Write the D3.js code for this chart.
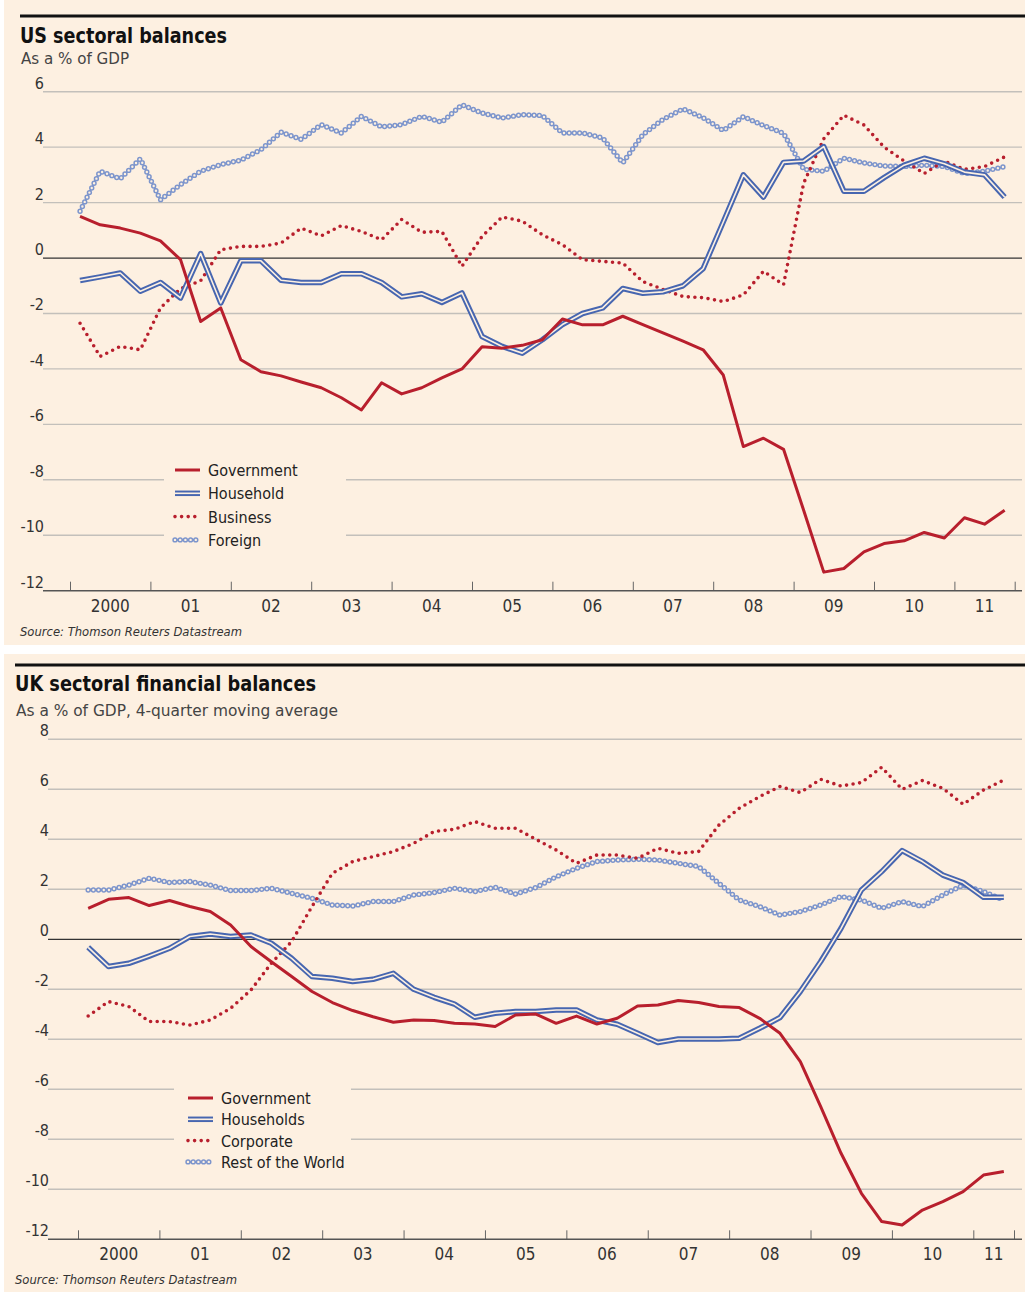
<!DOCTYPE html>
<html>
<head>
<meta charset="utf-8">
<script src="https://cdn.jsdelivr.net/npm/d3@7"></script>
<style>
  body { margin: 0; background: #fff; }
  svg { display: block; }
  text { font-family: "Liberation Sans Narrow", "DejaVu Sans Condensed", "Roboto Condensed", sans-serif; }
</style>
</head>
<body>
<div id="app"></div>
<script>
// ---- data, quarterly from 2000 Q1 ----
const yearLabels = ["2000", "01", "02", "03", "04", "05", "06", "07", "08", "09", "10", "11"];

// US, 2000Q1 - 2011Q3
const usGovernment = [1.5, 1.2, 1.08, 0.9, 0.62, -0.06, -2.29, -1.8, -3.67, -4.1, -4.25, -4.47, -4.68, -5.04, -5.48, -4.5,
  -4.9, -4.68, -4.32, -4.0, -3.2, -3.25, -3.15, -2.95, -2.2, -2.41, -2.41, -2.1, -2.4, -2.7, -3.0, -3.31,
  -4.22, -6.8, -6.5, -6.9, -9.1, -11.33, -11.2, -10.6, -10.3, -10.2, -9.9, -10.1, -9.37, -9.6, -9.1];
const usHousehold = [-0.81, -0.68, -0.54, -1.2, -0.88, -1.44, 0.16, -1.62, -0.1, -0.1, -0.8, -0.88, -0.88, -0.57, -0.57, -0.88,
  -1.4, -1.29, -1.6, -1.26, -2.83, -3.19, -3.43, -2.95, -2.4, -2.0, -1.8, -1.1, -1.27, -1.22, -1.0, -0.38,
  1.3, 3.0, 2.2, 3.45, 3.5, 4.02, 2.41, 2.41, 2.9, 3.35, 3.6, 3.4, 3.1, 3.0, 2.2];
const usBusiness = [-2.35, -3.55, -3.19, -3.31, -1.8, -1.1, -0.82, 0.3, 0.42, 0.42, 0.54, 1.08, 0.8, 1.17, 0.96, 0.66,
  1.39, 0.93, 0.96, -0.3, 0.78, 1.48, 1.33, 0.84, 0.48, -0.06, -0.12, -0.18, -0.85, -1.13, -1.39, -1.43,
  -1.57, -1.33, -0.48, -0.96, 2.7, 4.3, 5.15, 4.8, 4.0, 3.5, 3.05, 3.5, 3.2, 3.3, 3.65];
const usForeign = [1.69, 3.13, 2.86, 3.58, 2.1, 2.65, 3.13, 3.37, 3.53, 3.91, 4.54, 4.28, 4.81, 4.51, 5.11, 4.73,
  4.81, 5.11, 4.9, 5.53, 5.23, 5.05, 5.17, 5.14, 4.51, 4.51, 4.33, 3.43, 4.45, 5.0, 5.38, 5.06,
  4.6, 5.1, 4.78, 4.5, 3.2, 3.13, 3.6, 3.43, 3.32, 3.3, 3.35, 3.3, 3.05, 3.13, 3.3];

// UK, 2000Q1 - 2011Q2
const ukGovernment = [1.24, 1.6, 1.67, 1.35, 1.55, 1.31, 1.11, 0.57, -0.29, -0.9, -1.49, -2.09, -2.53, -2.85, -3.1, -3.32,
  -3.23, -3.25, -3.36, -3.39, -3.49, -3.03, -2.99, -3.36, -3.07, -3.39, -3.16, -2.67, -2.63, -2.45, -2.53, -2.69,
  -2.73, -3.16, -3.76, -4.89, -6.69, -8.56, -10.16, -11.29, -11.43, -10.83, -10.49, -10.09, -9.43, -9.29];
const ukHouseholds = [-0.32, -1.09, -0.96, -0.67, -0.36, 0.11, 0.21, 0.11, 0.17, -0.16, -0.76, -1.49, -1.56, -1.69, -1.6, -1.36,
  -2.0, -2.32, -2.59, -3.12, -2.96, -2.89, -2.89, -2.83, -2.83, -3.23, -3.4, -3.76, -4.13, -3.99, -3.99, -3.99,
  -3.96, -3.56, -3.13, -2.09, -0.89, 0.44, 1.97, 2.71, 3.55, 3.11, 2.57, 2.27, 1.68, 1.68];
const ukCorporate = [-3.07, -2.49, -2.69, -3.29, -3.29, -3.43, -3.23, -2.76, -2.03, -0.96, -0.09, 1.31, 2.64, 3.11, 3.31, 3.51,
  3.84, 4.31, 4.4, 4.71, 4.44, 4.44, 4.0, 3.57, 3.04, 3.37, 3.37, 3.24, 3.64, 3.44, 3.51, 4.57,
  5.24, 5.71, 6.11, 5.87, 6.4, 6.13, 6.27, 6.88, 6.0, 6.35, 6.04, 5.4, 5.97, 6.37];
const ukRestOfWorld = [1.97, 1.97, 2.17, 2.44, 2.27, 2.31, 2.17, 1.95, 1.95, 2.04, 1.84, 1.64, 1.37, 1.33, 1.51, 1.51,
  1.77, 1.87, 2.04, 1.91, 2.08, 1.81, 2.07, 2.5, 2.84, 3.11, 3.17, 3.2, 3.17, 3.04, 2.91, 2.24,
  1.57, 1.31, 0.97, 1.11, 1.37, 1.71, 1.57, 1.24, 1.51, 1.31, 1.77, 2.17, 1.91, 1.57];

const usTicks = [6, 4, 2, 0, -2, -4, -6, -8, -10, -12];
const ukTicks = [8, 6, 4, 2, 0, -2, -4, -6, -8, -10, -12];

const BG = "#fdf0e1";
const RED = "#b81f2d";
const BLUE = "#4766b0";
const LIGHTBLUE = "#7d95cc";

const panels = [
  {
    top: 0, bottom: 645, ruleX: 20, ruleY: 16,
    title: "US sectoral balances", titleY: 43, titleW: 207,
    sub: "As a % of GDP", subY: 64, subW: 108,
    ticks: usTicks, yRange: [590.7, 91.7], gridX0: 43,
    xEnd: 2011.75, xRange: [70, 1014.7], labelY: 612,
    source: 636,
    legend: { box: [164, 456, 182, 98], x: 175, y: 470, step: 23.3 },
    series: [
      { name: "Government", values: usGovernment, style: "solid" },
      { name: "Household", values: usHousehold, style: "double" },
      { name: "Business", values: usBusiness, style: "dots" },
      { name: "Foreign", values: usForeign, style: "rings" }
    ]
  },
  {
    top: 654, bottom: 1292, ruleX: 15, ruleY: 665,
    title: "UK sectoral financial balances", titleY: 691, titleW: 301,
    sub: "As a % of GDP, 4-quarter moving average", subY: 716, subW: 322,
    ticks: ukTicks, yRange: [1239.3, 739.3], gridX0: 48,
    xEnd: 2011.5, xRange: [78, 1014], labelY: 1260,
    source: 1284,
    legend: { box: [174, 1084, 177, 90], x: 188, y: 1098, step: 21.3 },
    series: [
      { name: "Government", values: ukGovernment, style: "solid" },
      { name: "Households", values: ukHouseholds, style: "double" },
      { name: "Corporate", values: ukCorporate, style: "dots" },
      { name: "Rest of the World", values: ukRestOfWorld, style: "rings" }
    ]
  }
];

const svg = d3.select("#app").append("svg")
  .attr("width", 1025)
  .attr("height", 1292);

function strokeLine(g, d, style) {
  // draws one path in the FT style used for the series
  if (style === "solid") {
    g.append("path").attr("d", d).attr("fill", "none")
      .attr("stroke", RED).attr("stroke-width", 3).attr("stroke-linejoin", "round");
  } else if (style === "double") {
    g.append("path").attr("d", d).attr("fill", "none")
      .attr("stroke", BLUE).attr("stroke-width", 5.5).attr("stroke-linejoin", "round");
    g.append("path").attr("d", d).attr("fill", "none")
      .attr("stroke", BG).attr("stroke-width", 1.6).attr("stroke-linejoin", "round");
  } else if (style === "dots") {
    g.append("path").attr("d", d).attr("fill", "none")
      .attr("stroke", RED).attr("stroke-width", 3.6)
      .attr("stroke-linecap", "round").attr("stroke-dasharray", "0 6.6");
  } else {
    g.append("path").attr("d", d).attr("fill", "none")
      .attr("stroke", LIGHTBLUE).attr("stroke-width", 5.4)
      .attr("stroke-linecap", "round").attr("stroke-dasharray", "0 5.2");
    g.append("path").attr("d", d).attr("fill", "none")
      .attr("stroke", BG).attr("stroke-width", 2.4)
      .attr("stroke-linecap", "round").attr("stroke-dasharray", "0 5.2");
  }
}

panels.forEach(p => {
  const g = svg.append("g");

  g.append("rect")
    .attr("x", 4).attr("y", p.top)
    .attr("width", 1021).attr("height", p.bottom - p.top)
    .attr("fill", BG);

  // header
  g.append("line")
    .attr("x1", p.ruleX).attr("x2", 1025)
    .attr("y1", p.ruleY).attr("y2", p.ruleY)
    .attr("stroke", "#111").attr("stroke-width", 3);

  g.append("text")
    .attr("x", p.ruleX).attr("y", p.titleY)
    .attr("textLength", p.titleW).attr("lengthAdjust", "spacingAndGlyphs")
    .style("font-size", "22px").style("font-weight", "bold").attr("fill", "#111")
    .text(p.title);

  g.append("text")
    .attr("x", p.ruleX + 1).attr("y", p.subY)
    .attr("textLength", p.subW).attr("lengthAdjust", "spacingAndGlyphs")
    .style("font-size", "16px").attr("fill", "#444")
    .text(p.sub);

  const x = d3.scaleLinear().domain([2000, p.xEnd]).range(p.xRange);
  const y = d3.scaleLinear().domain([-12, d3.max(p.ticks)]).range(p.yRange);

  // gridlines
  g.selectAll(".grid")
    .data(p.ticks.filter(t => t !== 0 && t !== -12))
    .join("line")
    .attr("x1", p.gridX0).attr("x2", 1022)
    .attr("y1", d => y(d)).attr("y2", d => y(d))
    .attr("stroke", "#c3c0bb").attr("stroke-width", 1.4);

  // y labels
  g.selectAll(".ylab")
    .data(p.ticks)
    .join("text")
    .attr("x", p.gridX0 + 1).attr("y", d => y(d) - 3)
    .attr("text-anchor", "end")
    .style("font-size", "16px").attr("fill", "#333")
    .text(d => d);

  // legend box hides the gridlines behind it
  g.append("rect")
    .attr("x", p.legend.box[0]).attr("y", p.legend.box[1])
    .attr("width", p.legend.box[2]).attr("height", p.legend.box[3])
    .attr("fill", BG);

  // zero line
  g.append("line")
    .attr("x1", p.gridX0).attr("x2", 1022)
    .attr("y1", y(0)).attr("y2", y(0))
    .attr("stroke", "#333").attr("stroke-width", 1.3);

  // x axis at -12 with ticks pointing up at year starts
  const tickVals = yearLabels.map((_, i) => 2000 + i).concat([p.xEnd]);
  const axis = g.append("g")
    .attr("transform", `translate(0,${y(-12)})`)
    .call(d3.axisBottom(x).tickValues(tickVals).tickSize(-9).tickFormat(""));
  axis.select(".domain").remove();
  axis.selectAll(".tick line").attr("stroke", "#666").attr("stroke-width", 1);
  g.append("line")
    .attr("x1", p.gridX0).attr("x2", 1022)
    .attr("y1", y(-12)).attr("y2", y(-12))
    .attr("stroke", "#555").attr("stroke-width", 1.5);

  g.selectAll(".xlab")
    .data(yearLabels)
    .join("text")
    .attr("x", (d, i) => x((2000 + i + Math.min(2000 + i + 1, p.xEnd)) / 2))
    .attr("y", p.labelY)
    .attr("text-anchor", "middle")
    .style("font-size", "17px").attr("fill", "#333")
    .text(d => d);

  // series
  const line = d3.line()
    .x((d, i) => x(2000 + (i + 0.5) / 4))
    .y(d => y(d));

  const order = ["rings", "dots", "double", "solid"];
  order.forEach(st => {
    p.series.filter(s => s.style === st).forEach(s => {
      strokeLine(g, line(s.values), s.style);
    });
  });

  // legend
  p.series.forEach((s, i) => {
    const ly = p.legend.y + i * p.legend.step;
    strokeLine(g, `M${p.legend.x},${ly}L${p.legend.x + 25},${ly}`, s.style);
    g.append("text")
      .attr("x", p.legend.x + 33).attr("y", ly + 6)
      .style("font-size", "16px").attr("fill", "#222")
      .text(s.name);
  });

  // source
  g.append("text")
    .attr("x", p.ruleX).attr("y", p.source)
    .attr("textLength", 222).attr("lengthAdjust", "spacingAndGlyphs")
    .style("font-size", "13px").style("font-style", "italic").attr("fill", "#333")
    .text("Source: Thomson Reuters Datastream");
});
</script>
</body>
</html>
